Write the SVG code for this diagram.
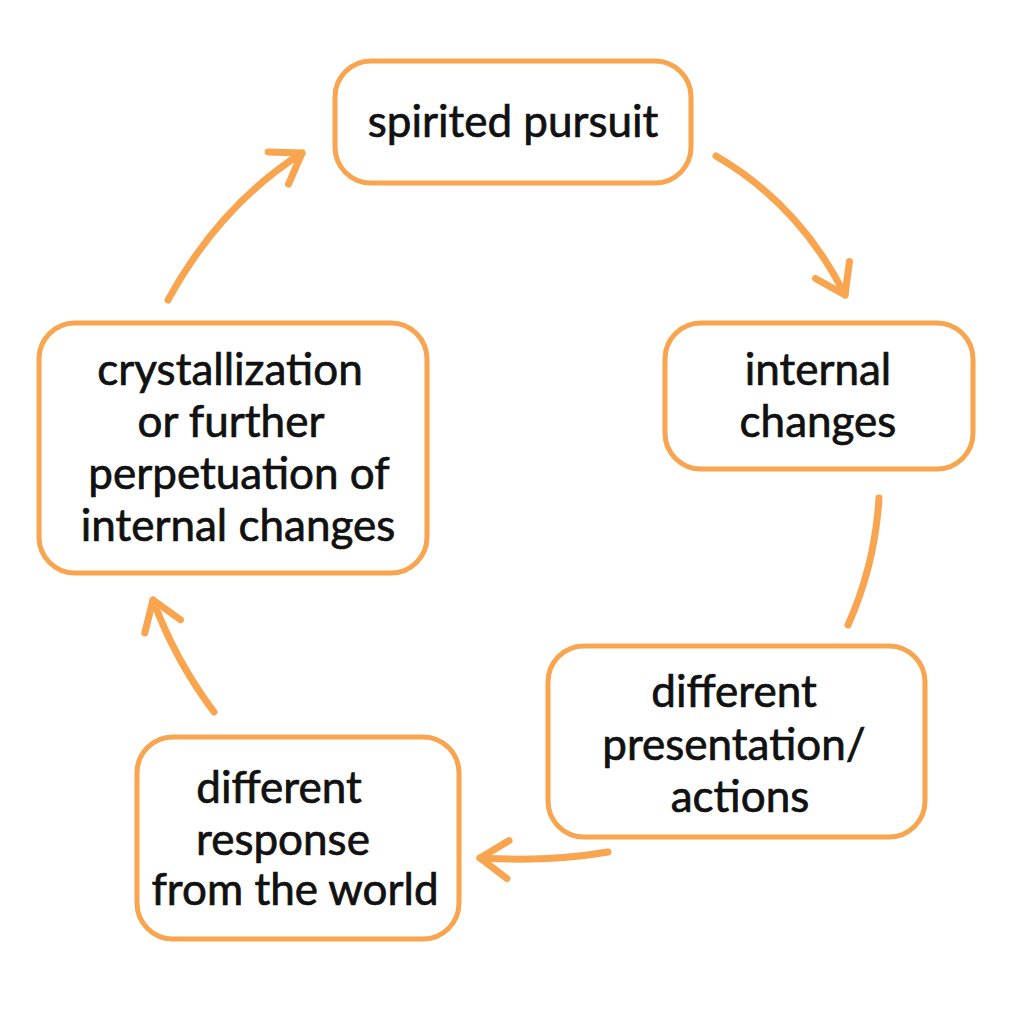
<svg xmlns="http://www.w3.org/2000/svg" width="1024" height="1024" viewBox="0 0 1024 1024">
<style>
.box{fill:#fff;stroke:#F9A44F;stroke-width:5}
.t{font-family:Lato,"Open Sans",sans-serif;font-size:44px;fill:#111;stroke:#111;stroke-width:0.7;text-anchor:middle}
.c{fill:none;stroke:#F9A44F;stroke-width:7;stroke-linecap:round;stroke-linejoin:round}
</style>
<defs>
<marker id="ah" viewBox="-12 -12 24 24" markerWidth="24" markerHeight="24" markerUnits="userSpaceOnUse" refX="0" refY="0" orient="auto" overflow="visible">
<path d="M-28,-19 L0,0 L-28,19" fill="none" stroke="#F9A44F" stroke-width="7" stroke-linecap="round" stroke-linejoin="round"/>
</marker>
</defs>
<rect width="1024" height="1024" fill="#fff"/>
<g id="connectors">
<path class="c" d="M716,156 Q800,205 845,295" marker-end="url(#ah)"/>
<path class="c" d="M879,498 Q875,565 848,625"/>
<path class="c" d="M608,852 Q550,862 480,858" marker-end="url(#ah)"/>
<path class="c" d="M214,712 Q175,660 153,600" marker-end="url(#ah)"/>
<path class="c" d="M168,300 Q220,205 302,153" marker-end="url(#ah)"/>
</g>
<g id="n1">
<rect class="box" x="335" y="61" width="356" height="122" rx="36"/>
<text class="t" x="513" y="137">spirited pursuit</text>
</g>
<g id="n2">
<rect class="box" x="665" y="323" width="308" height="146" rx="36"/>
<text class="t" x="818" y="385">internal</text>
<text class="t" x="818" y="437">changes</text>
</g>
<g id="n3">
<rect class="box" x="548" y="646" width="377" height="191" rx="36"/>
<text class="t" x="734" y="707">different</text>
<text class="t" x="734" y="760">presentation/</text>
<text class="t" x="740" y="812">actions</text>
</g>
<g id="n4">
<rect class="box" x="137" y="737" width="322" height="202" rx="36"/>
<text class="t" x="279" y="803">different</text>
<text class="t" x="283" y="855">response</text>
<text class="t" x="295" y="905">from the world</text>
</g>
<g id="n5">
<rect class="box" x="39" y="323" width="388" height="250" rx="36"/>
<text class="t" x="230" y="385">crystallization</text>
<text class="t" x="231" y="437">or further</text>
<text class="t" x="239" y="489">perpetuation of</text>
<text class="t" x="238" y="541">internal changes</text>
</g>
</svg>
